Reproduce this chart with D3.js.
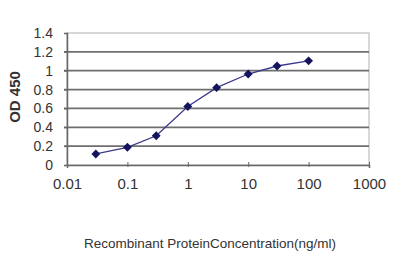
<!DOCTYPE html>
<html><head><meta charset="utf-8">
<script src="https://cdn.jsdelivr.net/npm/d3@7"></script>
<style>
html,body{margin:0;padding:0;background:#fff;}
svg{display:block;}
text{font-family:"Liberation Sans",Arial,sans-serif;fill:#333;}
</style></head>
<body>
<svg id="c" width="400" height="267"></svg>
<script>
const concentrations = [0.03, 0.1, 0.3, 1, 3, 10, 30, 100];
const odValues = [0.117, 0.188, 0.31, 0.62, 0.82, 0.965, 1.05, 1.105];
const xTicks = [0.01, 0.1, 1, 10, 100, 1000];
const xTickLabels = ["0.01", "0.1", "1", "10", "100", "1000"];
const yTicks = [0, 0.2, 0.4, 0.6, 0.8, 1, 1.2, 1.4];
const yTickLabels = ["0", "0.2", "0.4", "0.6", "0.8", "1", "1.2", "1.4"];
const yTitle = "OD 450";
const xTitle = "Recombinant ProteinConcentration(ng/ml)";

const svg = d3.select("#c");
const L = 67, R = 369, T = 33, B = 165;
const x = d3.scaleLog().domain([0.01, 1000]).range([L, R]);
const y = d3.scaleLinear().domain([0, 1.4]).range([B, T]);

// plot border
svg.append("rect").attr("x", L).attr("y", T).attr("width", R - L).attr("height", B - T)
  .attr("fill", "none").attr("stroke", "#b0b0b0").attr("stroke-width", 1);

// gridlines
svg.append("g").selectAll("line").data(yTicks.filter(d => d > 0 && d < 1.4)).join("line")
  .attr("x1", L - 3).attr("x2", R).attr("y1", d => y(d)).attr("y2", d => y(d))
  .attr("stroke", "#6e6e6e").attr("stroke-width", 1.7);

// y axis
const yAxis = d3.axisLeft(y).tickValues(yTicks).tickFormat((d, i) => yTickLabels[i]).tickSize(3).tickPadding(11);
const gy = svg.append("g").attr("transform", `translate(${L},0)`).call(yAxis);
gy.select(".domain").attr("stroke", "#666").attr("stroke-width", 1.5);
gy.selectAll(".tick line").attr("stroke", "#666");
gy.selectAll("text").attr("font-size", 14).attr("fill", "#444");

// x axis
const xAxis = d3.axisBottom(x).tickValues(xTicks).tickFormat((d, i) => xTickLabels[i]).tickSize(3).tickPadding(10);
const gx = svg.append("g").attr("transform", `translate(0,${B})`).call(xAxis);
gx.select(".domain").attr("stroke", "#666").attr("stroke-width", 1.5);
gx.selectAll(".tick line").attr("stroke", "#666").attr("y1", -3).attr("y2", 2);
gx.selectAll("text").attr("font-size", 15).attr("fill", "#444");

// line
const pts = concentrations.map((c, i) => [c, odValues[i]]);
svg.append("path").datum(pts)
  .attr("d", d3.line().x(d => x(d[0])).y(d => y(d[1])))
  .attr("fill", "none").attr("stroke", "#3a3a8a").attr("stroke-width", 1.3);

// markers
svg.append("g").selectAll("path").data(pts).join("path")
  .attr("transform", d => `translate(${x(d[0])},${y(d[1])})`)
  .attr("d", d3.symbol().type(d3.symbolDiamond2).size(50))
  .attr("fill", "#14145e");

// titles
svg.append("text").attr("transform", `translate(20,${(T + B) / 2 - 2}) rotate(-90)`)
  .attr("text-anchor", "middle").attr("font-size", 15).attr("font-weight", "bold")
  .attr("fill", "#555").text(yTitle);
svg.append("text").attr("x", 210).attr("y", 248).attr("text-anchor", "middle")
  .attr("font-size", 13.5).attr("fill", "#333").text(xTitle);
</script>
</body></html>
